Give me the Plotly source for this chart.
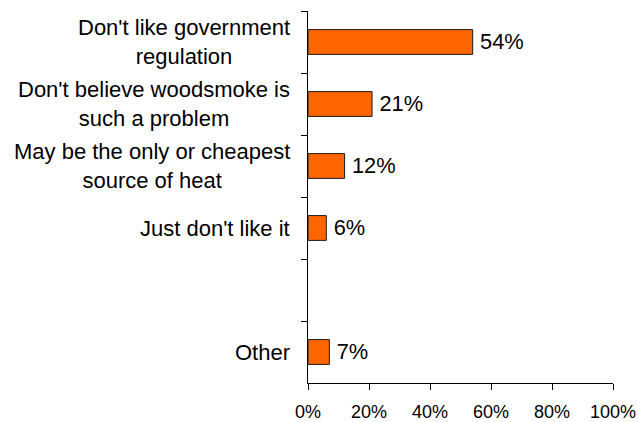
import plotly.graph_objects as go

categories = [
    "Don't like government<br>regulation",
    "Don't believe woodsmoke is<br>such a problem",
    "May be the only or cheapest<br>source of heat",
    "Just don't like it",
    " ",
    "Other",
]
values = [54, 21, 12, 6, None, 7]
x_ticks = [0, 20, 40, 60, 80, 100]
x_tick_labels = ["0%", "20%", "40%", "60%", "80%", "100%"]

FONT = "Liberation Sans, Arial, sans-serif"

fig = go.Figure()
fig.add_trace(go.Bar(
    x=values,
    y=categories,
    orientation="h",
    marker=dict(color="#FF6600", line=dict(color="#1a1a1a", width=1)),
    text=[f"\u2009{v}%" if v is not None else "" for v in values],
    textposition="outside",
    textfont=dict(family=FONT, size=22, color="black"),
    cliponaxis=False,
    hoverinfo="skip",
))

for c, v in zip(categories, values):
    if v is None:
        continue
    fig.add_annotation(
        x=0, xref="paper", y=c, yref="y",
        text=c, showarrow=False,
        xanchor="right", yanchor="middle", align="center",
        xshift=-16,
        font=dict(family=FONT, size=22, color="black"),
    )

fig.update_layout(
    width=638, height=422,
    margin=dict(l=308, r=25, t=11, b=39, autoexpand=False),
    paper_bgcolor="white", plot_bgcolor="white",
    showlegend=False,
    bargap=0.6,
    font=dict(family=FONT, color="black"),
)
fig.update_xaxes(
    range=[0, 100],
    tickvals=x_ticks, ticktext=x_tick_labels,
    ticks="outside", ticklen=6, tickcolor="black", tickwidth=1,
    ticklabelstandoff=6, ticklabeloverflow="allow",
    automargin=False,
    showline=True, linecolor="black", linewidth=1,
    showgrid=False, zeroline=False,
    tickfont=dict(family=FONT, size=18, color="black"),
    fixedrange=True,
)
fig.update_yaxes(
    type="category",
    categoryorder="array", categoryarray=categories,
    autorange="reversed",
    tickson="boundaries",
    ticks="outside", ticklen=6, tickcolor="black", tickwidth=1,
    showticklabels=False,
    automargin=False,
    showline=True, linecolor="black", linewidth=1,
    showgrid=False, zeroline=False,
    fixedrange=True,
)

fig.write_html(
    "out.html",
    config={"displayModeBar": False},
    post_script="document.body.style.margin='0';",
)
